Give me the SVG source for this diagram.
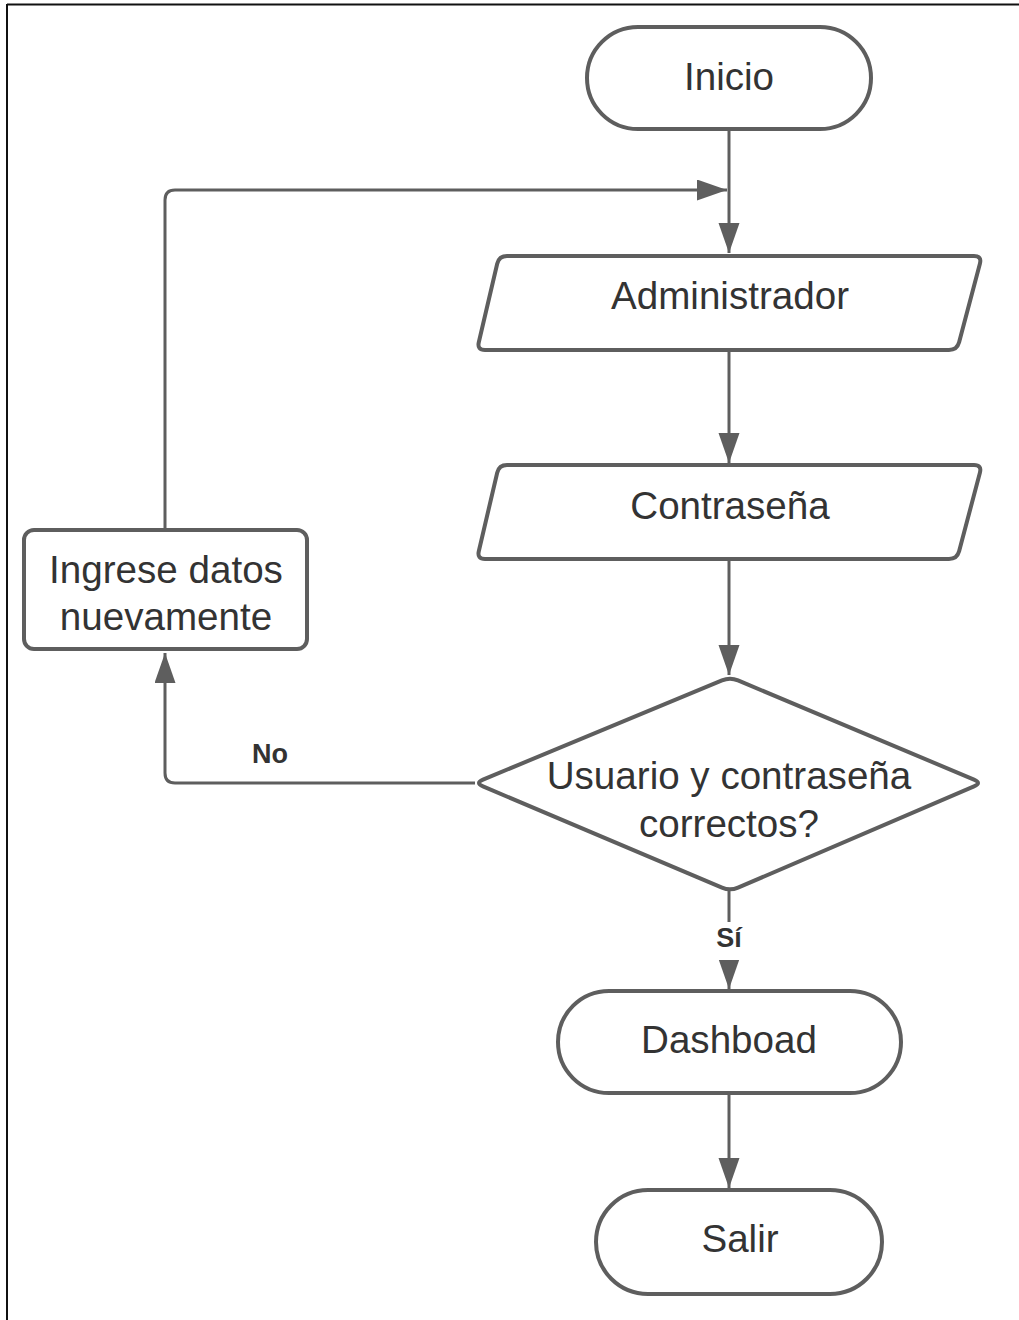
<svg xmlns="http://www.w3.org/2000/svg" width="1019" height="1320" viewBox="0 0 1019 1320">
<style>
.shape{fill:#ffffff;stroke:#5e5e5e;stroke-width:4;stroke-linejoin:round}
.conn{fill:none;stroke:#5e5e5e;stroke-width:3}
.t{font-family:"Liberation Sans",Arial,sans-serif;font-size:38.6px;fill:#333333;text-anchor:middle}
.lbl{font-family:"Liberation Sans",Arial,sans-serif;font-size:27px;font-weight:bold;fill:#333333;text-anchor:middle}
.frame{stroke:#111111;stroke-width:2;fill:none}
</style>
<defs>
<marker id="arr" markerUnits="userSpaceOnUse" markerWidth="31" markerHeight="22" refX="30" refY="10.5" orient="auto">
<path d="M0,0 L30,10.5 L0,21 Z" fill="#5e5e5e"/>
</marker>
</defs>
<rect width="1019" height="1320" fill="#ffffff"/>
<g id="frame">
<line class="frame" x1="7" y1="4.5" x2="1019" y2="4.5"/>
<line class="frame" x1="7" y1="4" x2="7" y2="1320"/>
</g>
<g id="connectors">
<line class="conn" x1="729" y1="129" x2="729" y2="253" marker-end="url(#arr)"/>
<path class="conn" d="M165,530 V200 Q165,190 175,190 H727" marker-end="url(#arr)"/>
<line class="conn" x1="729" y1="350" x2="729" y2="463" marker-end="url(#arr)"/>
<line class="conn" x1="729" y1="558" x2="729" y2="675" marker-end="url(#arr)"/>
<path class="conn" d="M475,783 H175 Q165,783 165,773 V653" marker-end="url(#arr)"/>
<line class="conn" x1="729" y1="891" x2="729" y2="989" marker-end="url(#arr)"/>
<line class="conn" x1="729" y1="1094" x2="729" y2="1188" marker-end="url(#arr)"/>
<rect x="712" y="922" width="34" height="38" fill="#ffffff"/>
<text class="lbl" x="729" y="947">Sí</text>
<text class="lbl" x="270" y="763">No</text>
</g>
<g id="inicio">
<rect class="shape" x="587" y="27" width="284" height="102" rx="51" ry="51"/>
<text class="t" x="729" y="90">Inicio</text>
</g>
<g id="administrador">
<path class="shape" d="M507,256 H974 Q982,256 979.9,263.7 L959.1,342.3 Q957,350 949,350 H485 Q477,350 478.8,342.2 L497.2,263.8 Q499,256 507,256 Z"/>
<text class="t" x="730" y="309">Administrador</text>
</g>
<g id="contrasena">
<path class="shape" transform="translate(0,209)" d="M507,256 H974 Q982,256 979.9,263.7 L959.1,342.3 Q957,350 949,350 H485 Q477,350 478.8,342.2 L497.2,263.8 Q499,256 507,256 Z"/>
<text class="t" x="730" y="519">Contraseña</text>
</g>
<g id="decision">
<path class="shape" d="M722,680.4 Q730,677 738,680.4 L974,779.6 Q982,783 974,786.4 L738,887.6 Q730,891 722,887.6 L483,786.4 Q475,783 483,779.6 Z"/>
<text class="t" x="729" y="789">Usuario y contraseña</text>
<text class="t" x="729" y="837">correctos?</text>
</g>
<g id="ingrese">
<rect class="shape" x="24" y="530" width="283" height="119" rx="10" ry="10"/>
<text class="t" x="166" y="583">Ingrese datos</text>
<text class="t" x="166" y="630">nuevamente</text>
</g>
<g id="dashboad">
<rect class="shape" x="558" y="991" width="343" height="102" rx="51" ry="51"/>
<text class="t" x="729" y="1053">Dashboad</text>
</g>
<g id="salir">
<rect class="shape" x="596" y="1190" width="286" height="104" rx="52" ry="52"/>
<text class="t" x="740" y="1252">Salir</text>
</g>
</svg>
